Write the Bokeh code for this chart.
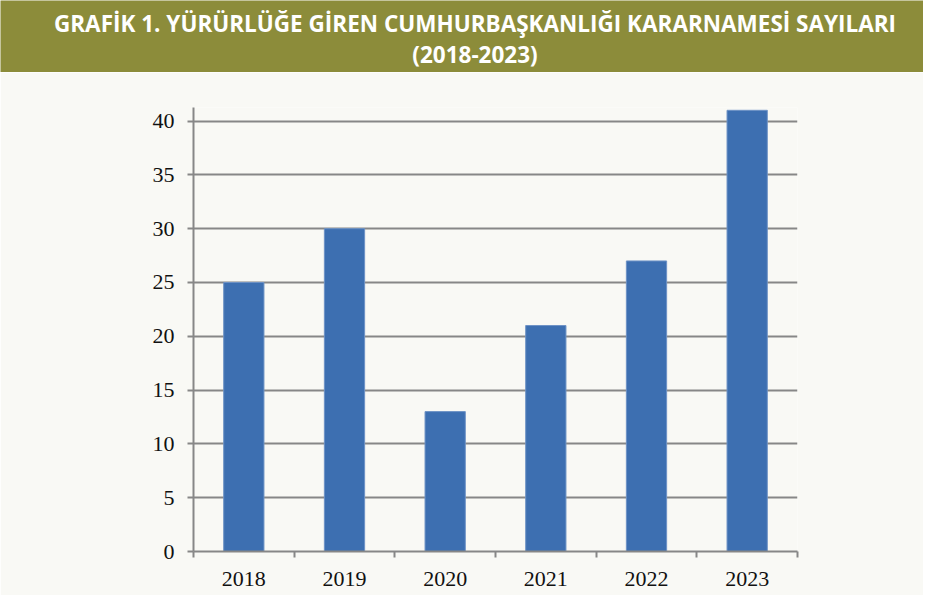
from bokeh.plotting import figure
from bokeh.layouts import column
from bokeh.models import FixedTicker, Range1d
from bokeh.core.properties import value
from bokeh.embed import file_html
from bokeh.resources import INLINE

years = ["2018", "2019", "2020", "2021", "2022", "2023"]
counts = [25, 30, 13, 21, 27, 41]
y_ticks = [0, 5, 10, 15, 20, 25, 30, 35, 40]
title_lines = ["GRAFİK 1. YÜRÜRLÜĞE GİREN CUMHURBAŞKANLIĞI KARARNAMESİ SAYILARI", "(2018-2023)"]

W = 923
BAND_H = 72
CHART_H = 523
BG = "#f9f9f5"
OLIVE = "#8c8c3a"
GRID = "#878787"
BAR = "#3d6fb1"

# ---- title band ----
band = figure(width=W, height=BAND_H, output_backend="svg", toolbar_location=None,
              x_range=Range1d(0, W), y_range=Range1d(BAND_H, 0),
              min_border=0, min_border_left=0, min_border_right=0,
              min_border_top=0, min_border_bottom=0)
band.frame_align = False
band.axis.visible = False
band.grid.visible = False
band.outline_line_color = None
band.background_fill_color = OLIVE
band.border_fill_color = OLIVE
band.text(x=[W / 2 + 13, W / 2 + 13], y=[23, 54], text=title_lines,
          text_align="center", text_baseline="middle",
          text_font=value("Open Sans"), text_font_style="bold",
          text_font_size="22.5px", text_color="white")

# ---- chart ----
centers = [i + 0.5 for i in range(len(years))]

p = figure(width=W, height=CHART_H, output_backend="svg", toolbar_location=None,
           x_range=Range1d(0, len(years)), y_range=Range1d(0, 41.26),
           min_border_left=193, min_border_right=126, min_border_top=35,
           min_border_bottom=44)
p.frame_align = False
p.background_fill_color = BG
p.border_fill_color = BG
p.outline_line_color = None

p.vbar(x=centers, top=counts, width=0.4, fill_color=BAR, line_color="#6e93c6", line_width=1)

p.xaxis.ticker = FixedTicker(ticks=centers, minor_ticks=list(range(len(years) + 1)))
p.xaxis.major_label_overrides = {c: y for c, y in zip(centers, years)}
p.xaxis.major_tick_out = 0
p.xaxis.major_tick_in = 0
p.xaxis.minor_tick_out = 6
p.xaxis.minor_tick_in = 0
p.xaxis.minor_tick_line_color = GRID
p.xaxis.minor_tick_line_width = 2
p.xaxis.major_label_standoff = 14

p.yaxis.ticker = FixedTicker(ticks=y_ticks)
p.yaxis.major_tick_out = 6
p.yaxis.major_tick_in = 0
p.yaxis.minor_tick_line_color = None
p.yaxis.major_tick_line_color = GRID
p.yaxis.major_tick_line_width = 2
p.yaxis.major_label_standoff = 13

for ax in (p.xaxis, p.yaxis):
    ax.axis_line_color = GRID
    ax.axis_line_width = 2
    ax.major_label_text_font = "Liberation Serif"
    ax.major_label_text_font_size = "22px"
    ax.major_label_text_color = "#111111"

p.xgrid.grid_line_color = None
p.ygrid.grid_line_color = GRID
p.ygrid.grid_line_width = 2

layout = column(band, p, spacing=0)
open("out.html", "w").write(file_html(layout, INLINE))
